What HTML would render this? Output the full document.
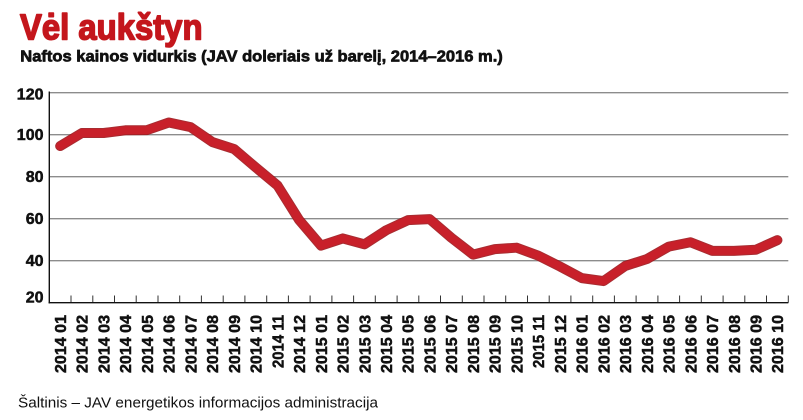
<!DOCTYPE html>
<html>
<head>
<meta charset="utf-8">
<style>
  html,body{margin:0;padding:0;background:#fff;}
  svg{display:block;}
  text{font-family:"Liberation Sans","DejaVu Sans",sans-serif;}
</style>
</head>
<body>
<svg width="803" height="420" viewBox="0 0 803 420" xmlns="http://www.w3.org/2000/svg">
  <rect width="803" height="420" fill="#fff"/>
  <!-- Title -->
  <text x="20" y="39.5" font-size="36" font-weight="bold" fill="#c4161c" stroke="#c4161c" stroke-width="1.6" stroke-linejoin="round" textLength="182.5" lengthAdjust="spacingAndGlyphs">Vėl aukštyn</text>
  <text x="20.3" y="61.7" font-size="16" font-weight="bold" fill="#111" stroke="#111" stroke-width="0.7" stroke-linejoin="round" textLength="482.5" lengthAdjust="spacingAndGlyphs">Naftos kainos vidurkis (JAV doleriais už barelį, 2014–2016 m.)</text>

  <!-- Gridlines -->
  <g stroke="#8c8c8c" stroke-width="1.4">
    <line x1="49.3" y1="92.7" x2="788.3" y2="92.7"/>
    <line x1="49.3" y1="134.7" x2="788.3" y2="134.7"/>
    <line x1="49.3" y1="176.7" x2="788.3" y2="176.7"/>
    <line x1="49.3" y1="218.7" x2="788.3" y2="218.7"/>
    <line x1="49.3" y1="260.7" x2="788.3" y2="260.7"/>
  </g>

  <!-- Y labels -->
  <g font-size="16" font-weight="bold" fill="#111" stroke="#111" stroke-width="0.5" text-anchor="end">
    <text x="43.5" y="99.5">120</text>
    <text x="43.5" y="140">100</text>
    <text x="43.5" y="182">80</text>
    <text x="43.5" y="224">60</text>
    <text x="43.5" y="266">40</text>
    <text x="43.5" y="302.5">20</text>
  </g>

  <!-- Ticks -->
  <g stroke="#333" stroke-width="1">
    <line x1="71.0" y1="295.5" x2="71.0" y2="302.7"/>
    <line x1="92.8" y1="295.5" x2="92.8" y2="302.7"/>
    <line x1="114.5" y1="295.5" x2="114.5" y2="302.7"/>
    <line x1="136.2" y1="295.5" x2="136.2" y2="302.7"/>
    <line x1="158.0" y1="295.5" x2="158.0" y2="302.7"/>
    <line x1="179.7" y1="295.5" x2="179.7" y2="302.7"/>
    <line x1="201.4" y1="295.5" x2="201.4" y2="302.7"/>
    <line x1="223.2" y1="295.5" x2="223.2" y2="302.7"/>
    <line x1="244.9" y1="295.5" x2="244.9" y2="302.7"/>
    <line x1="266.7" y1="295.5" x2="266.7" y2="302.7"/>
    <line x1="288.4" y1="295.5" x2="288.4" y2="302.7"/>
    <line x1="310.1" y1="295.5" x2="310.1" y2="302.7"/>
    <line x1="331.9" y1="295.5" x2="331.9" y2="302.7"/>
    <line x1="353.6" y1="295.5" x2="353.6" y2="302.7"/>
    <line x1="375.3" y1="295.5" x2="375.3" y2="302.7"/>
    <line x1="397.1" y1="295.5" x2="397.1" y2="302.7"/>
    <line x1="418.8" y1="295.5" x2="418.8" y2="302.7"/>
    <line x1="440.5" y1="295.5" x2="440.5" y2="302.7"/>
    <line x1="462.3" y1="295.5" x2="462.3" y2="302.7"/>
    <line x1="484.0" y1="295.5" x2="484.0" y2="302.7"/>
    <line x1="505.7" y1="295.5" x2="505.7" y2="302.7"/>
    <line x1="527.5" y1="295.5" x2="527.5" y2="302.7"/>
    <line x1="549.2" y1="295.5" x2="549.2" y2="302.7"/>
    <line x1="570.9" y1="295.5" x2="570.9" y2="302.7"/>
    <line x1="592.7" y1="295.5" x2="592.7" y2="302.7"/>
    <line x1="614.4" y1="295.5" x2="614.4" y2="302.7"/>
    <line x1="636.1" y1="295.5" x2="636.1" y2="302.7"/>
    <line x1="657.9" y1="295.5" x2="657.9" y2="302.7"/>
    <line x1="679.6" y1="295.5" x2="679.6" y2="302.7"/>
    <line x1="701.3" y1="295.5" x2="701.3" y2="302.7"/>
    <line x1="723.1" y1="295.5" x2="723.1" y2="302.7"/>
    <line x1="744.8" y1="295.5" x2="744.8" y2="302.7"/>
    <line x1="766.5" y1="295.5" x2="766.5" y2="302.7"/>
    <line x1="788.3" y1="295.5" x2="788.3" y2="302.7"/>
  </g>

  <!-- Axes -->
  <line x1="49.3" y1="91.5" x2="49.3" y2="303.4" stroke="#111" stroke-width="1.4"/>
  <line x1="48.6" y1="302.7" x2="788.3" y2="302.7" stroke="#111" stroke-width="1.4"/>

  <!-- Data line -->
  <polyline fill="none" stroke="#9e151b" stroke-width="10" stroke-linejoin="round" stroke-linecap="round" opacity="0.9"
    points="60.17,146.04 81.90,133.02 103.64,133.02 125.38,130.29 147.11,130.08 168.85,122.52 190.58,127.14 212.32,142.05 234.05,148.98 255.79,167.46 277.52,185.52 299.26,220.17 321.00,245.58 342.73,238.44 364.47,244.32 386.20,230.25 407.94,220.17 429.67,219.12 451.41,237.81 473.14,254.61 494.88,249.15 516.61,247.68 538.35,255.66 560.08,266.58 581.82,278.13 603.55,281.07 625.29,265.95 647.02,259.02 668.76,246.63 690.49,242.22 712.23,250.83 733.96,250.83 755.70,249.78 777.43,240.12"/>
  <polyline fill="none" stroke="#c8202a" stroke-width="8" stroke-linejoin="round" stroke-linecap="round"
    points="60.17,146.04 81.90,133.02 103.64,133.02 125.38,130.29 147.11,130.08 168.85,122.52 190.58,127.14 212.32,142.05 234.05,148.98 255.79,167.46 277.52,185.52 299.26,220.17 321.00,245.58 342.73,238.44 364.47,244.32 386.20,230.25 407.94,220.17 429.67,219.12 451.41,237.81 473.14,254.61 494.88,249.15 516.61,247.68 538.35,255.66 560.08,266.58 581.82,278.13 603.55,281.07 625.29,265.95 647.02,259.02 668.76,246.63 690.49,242.22 712.23,250.83 733.96,250.83 755.70,249.78 777.43,240.12"/>

  <!-- X labels -->
  <g font-size="16" font-weight="bold" fill="#111" stroke="#111" stroke-width="0.5" text-anchor="end">
    <text transform="translate(66.0,315) rotate(-90)" textLength="58" lengthAdjust="spacingAndGlyphs">2014 01</text>
    <text transform="translate(87.7,315) rotate(-90)" textLength="58" lengthAdjust="spacingAndGlyphs">2014 02</text>
    <text transform="translate(109.4,315) rotate(-90)" textLength="58" lengthAdjust="spacingAndGlyphs">2014 03</text>
    <text transform="translate(131.2,315) rotate(-90)" textLength="58" lengthAdjust="spacingAndGlyphs">2014 04</text>
    <text transform="translate(152.9,315) rotate(-90)" textLength="58" lengthAdjust="spacingAndGlyphs">2014 05</text>
    <text transform="translate(174.7,315) rotate(-90)" textLength="58" lengthAdjust="spacingAndGlyphs">2014 06</text>
    <text transform="translate(196.4,315) rotate(-90)" textLength="58" lengthAdjust="spacingAndGlyphs">2014 07</text>
    <text transform="translate(218.1,315) rotate(-90)" textLength="58" lengthAdjust="spacingAndGlyphs">2014 08</text>
    <text transform="translate(239.9,315) rotate(-90)" textLength="58" lengthAdjust="spacingAndGlyphs">2014 09</text>
    <text transform="translate(261.6,315) rotate(-90)" textLength="58" lengthAdjust="spacingAndGlyphs">2014 10</text>
    <text transform="translate(283.3,315) rotate(-90)" textLength="53" lengthAdjust="spacingAndGlyphs">2014 11</text>
    <text transform="translate(305.1,315) rotate(-90)" textLength="58" lengthAdjust="spacingAndGlyphs">2014 12</text>
    <text transform="translate(326.8,315) rotate(-90)" textLength="58" lengthAdjust="spacingAndGlyphs">2015 01</text>
    <text transform="translate(348.5,315) rotate(-90)" textLength="58" lengthAdjust="spacingAndGlyphs">2015 02</text>
    <text transform="translate(370.3,315) rotate(-90)" textLength="58" lengthAdjust="spacingAndGlyphs">2015 03</text>
    <text transform="translate(392.0,315) rotate(-90)" textLength="58" lengthAdjust="spacingAndGlyphs">2015 04</text>
    <text transform="translate(413.7,315) rotate(-90)" textLength="58" lengthAdjust="spacingAndGlyphs">2015 05</text>
    <text transform="translate(435.5,315) rotate(-90)" textLength="58" lengthAdjust="spacingAndGlyphs">2015 06</text>
    <text transform="translate(457.2,315) rotate(-90)" textLength="58" lengthAdjust="spacingAndGlyphs">2015 07</text>
    <text transform="translate(478.9,315) rotate(-90)" textLength="58" lengthAdjust="spacingAndGlyphs">2015 08</text>
    <text transform="translate(500.7,315) rotate(-90)" textLength="58" lengthAdjust="spacingAndGlyphs">2015 09</text>
    <text transform="translate(522.4,315) rotate(-90)" textLength="58" lengthAdjust="spacingAndGlyphs">2015 10</text>
    <text transform="translate(544.1,315) rotate(-90)" textLength="53" lengthAdjust="spacingAndGlyphs">2015 11</text>
    <text transform="translate(565.9,315) rotate(-90)" textLength="58" lengthAdjust="spacingAndGlyphs">2015 12</text>
    <text transform="translate(587.6,315) rotate(-90)" textLength="58" lengthAdjust="spacingAndGlyphs">2016 01</text>
    <text transform="translate(609.4,315) rotate(-90)" textLength="58" lengthAdjust="spacingAndGlyphs">2016 02</text>
    <text transform="translate(631.1,315) rotate(-90)" textLength="58" lengthAdjust="spacingAndGlyphs">2016 03</text>
    <text transform="translate(652.8,315) rotate(-90)" textLength="58" lengthAdjust="spacingAndGlyphs">2016 04</text>
    <text transform="translate(674.6,315) rotate(-90)" textLength="58" lengthAdjust="spacingAndGlyphs">2016 05</text>
    <text transform="translate(696.3,315) rotate(-90)" textLength="58" lengthAdjust="spacingAndGlyphs">2016 06</text>
    <text transform="translate(718.0,315) rotate(-90)" textLength="58" lengthAdjust="spacingAndGlyphs">2016 07</text>
    <text transform="translate(739.8,315) rotate(-90)" textLength="58" lengthAdjust="spacingAndGlyphs">2016 08</text>
    <text transform="translate(761.5,315) rotate(-90)" textLength="58" lengthAdjust="spacingAndGlyphs">2016 09</text>
    <text transform="translate(783.2,315) rotate(-90)" textLength="58" lengthAdjust="spacingAndGlyphs">2016 10</text>
  </g>

  <!-- Footer -->
  <text x="18" y="407.5" font-size="14.5" fill="#111" textLength="360" lengthAdjust="spacingAndGlyphs">Šaltinis – JAV energetikos informacijos administracija</text>
</svg>
</body>
</html>
